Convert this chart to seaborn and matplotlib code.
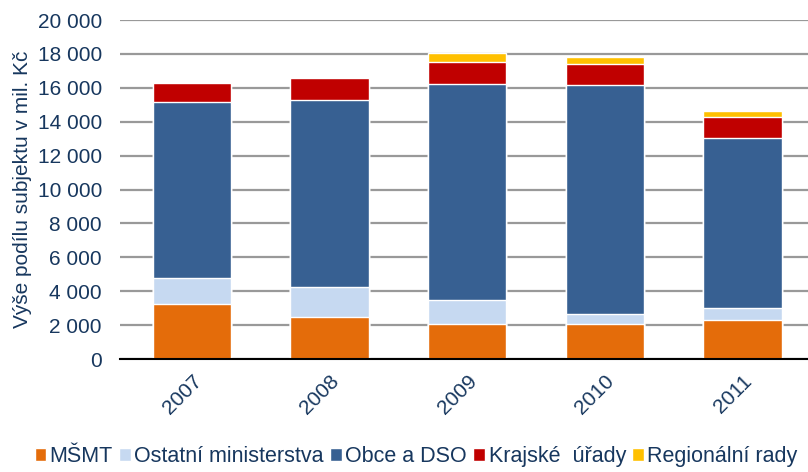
import numpy as np
import pandas as pd
import matplotlib
matplotlib.use("Agg")
import matplotlib.pyplot as plt
import seaborn as sns
from matplotlib.patches import Patch
from matplotlib.ticker import FuncFormatter

years = ["2007", "2008", "2009", "2010", "2011"]
series = ["MŠMT", "Ostatní ministerstva", "Obce a DSO", "Krajské  úřady", "Regionální rady"]
msmt = [3230, 2500, 2040, 2040, 2280]
ostatni = [1520, 1760, 1420, 590, 710]
obce = [10400, 11050, 12780, 13510, 10040]
kraje = [1120, 1280, 1290, 1280, 1240]
regiony = [0, 0, 510, 370, 350]
colors = ["#E46C0A", "#C6D9F1", "#376092", "#C00000", "#FFC000"]
navy = "#17375E"

sns.set_theme(style="white")
plt.rcParams["font.family"] = ["Liberation Sans", "DejaVu Sans"]

df = pd.DataFrame({"rok": years, series[0]: msmt, series[1]: ostatni,
                   series[2]: obce, series[3]: kraje, series[4]: regiony})
cum = df[series].cumsum(axis=1)

fig = plt.figure(figsize=(8.08, 4.72), dpi=100)
ax = fig.add_axes([0.1485, 0.2394, 0.8515, 0.7182])

# kumulativní sloupce od nejvyšší vrstvy dolů
for s, c in reversed(list(zip(series, colors))):
    sns.barplot(x=df["rok"], y=cum[s], color=c, width=0.57, ax=ax,
                edgecolor="white", linewidth=1.0, saturation=1, zorder=3)

ax.set_ylim(0, 20000)
ax.set_xlim(-0.523, 4.477)
ax.set_yticks(np.arange(0, 20001, 2000))
ax.yaxis.set_major_formatter(FuncFormatter(lambda v, p: f"{v:,.0f}".replace(",", " ")))
ax.grid(axis="y", color="#999999", lw=1.6, zorder=0)
ax.grid(axis="x", visible=False)
for sp in ["top", "right", "left"]:
    ax.spines[sp].set_visible(False)
ax.spines["bottom"].set_color("black")
ax.spines["bottom"].set_linewidth(1.5)
ax.spines["bottom"].set_zorder(4)

ax.tick_params(axis="y", labelsize=15, colors=navy, pad=13, length=0)
ax.tick_params(axis="x", labelsize=15, colors=navy, length=0, pad=9)
plt.setp(ax.get_xticklabels(), rotation=45, ha="right", rotation_mode="anchor")
ax.set_xlabel("")
ax.set_ylabel("Výše podílu subjektu v mil. Kč", fontsize=15, color=navy, labelpad=4)

handles = [Patch(facecolor=c, edgecolor="white") for c in colors]
fig.legend(handles, series, loc="lower center", bbox_to_anchor=(0.515, -0.03), ncol=5,
           frameon=False, handlelength=0.55, handleheight=0.55,
           handletextpad=0.15, columnspacing=0.3, labelcolor=navy,
           prop={"size": 15.5})

fig.savefig("out.png", dpi=100)
